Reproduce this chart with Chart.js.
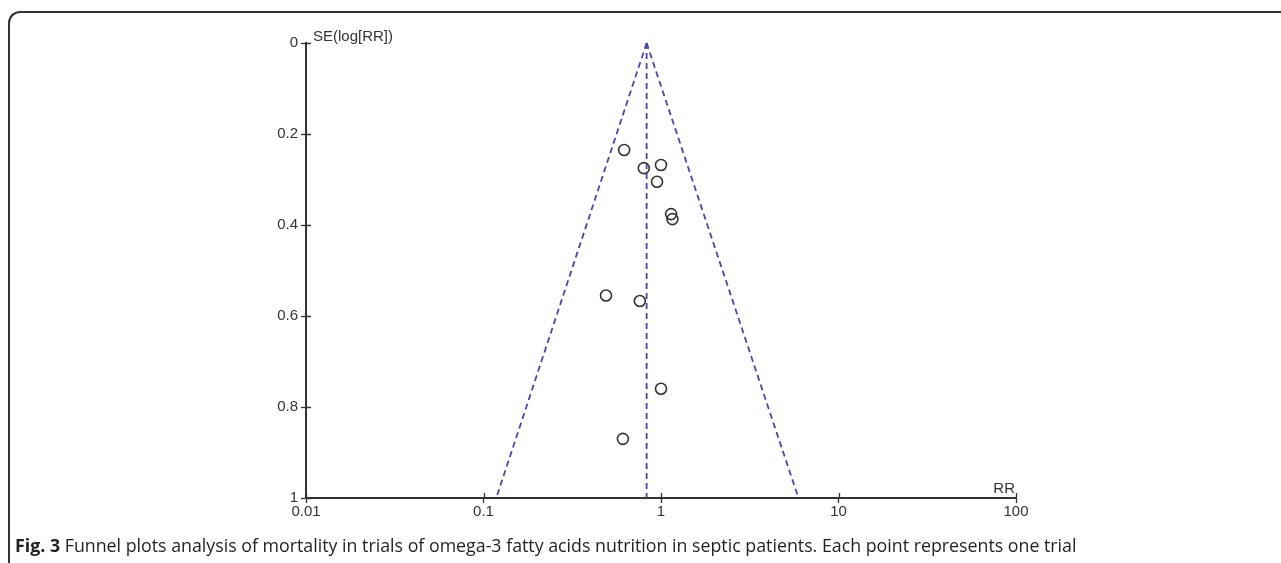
<!DOCTYPE html>
<html>
<head>
<meta charset="utf-8">
<script src="https://cdn.jsdelivr.net/npm/chart.js@4/dist/chart.umd.min.js"></script>
<style>
  html, body { margin: 0; padding: 0; background: #fff; }
  body { width: 1281px; height: 563px; position: relative; overflow: hidden; }
  #frame {
    position: absolute; left: 8px; top: 11px; width: 1400px; height: 700px;
    border-top: 2px solid #333; border-left: 2px solid #333;
    border-top-left-radius: 12px; box-sizing: border-box;
  }
  #chart { position: absolute; left: 0; top: 0; }
  #caption {
    position: absolute; left: 15px; top: 533px; white-space: nowrap;
    font-family: "Open Sans", sans-serif; font-size: 15px; color: #231f20;
  }
  #caption b { font-weight: 700; }
</style>
</head>
<body>
<div id="frame"></div>
<canvas id="chart" width="1281" height="563"></canvas>
<div id="caption"><b>Fig. 3</b> Funnel plots analysis of mortality in trials of omega-3 fatty acids nutrition in septic patients. Each point represents one trial</div>
<script>
'use strict';

// Trials: risk ratio and standard error of log(RR)
const trialRR = [0.62, 0.80, 1.00, 0.95, 1.14, 1.16, 0.49, 0.76, 1.00, 0.61];
const trialSE = [0.235, 0.275, 0.268, 0.305, 0.376, 0.387, 0.555, 0.567, 0.760, 0.870];

// Pooled estimate and 95% funnel limits
const pooledRR = 0.83;
const funnelLowRR = 0.118;
const funnelHighRR = 5.95;
const funnelSE = [0, 1];

const xTicks = [0.01, 0.1, 1, 10, 100];
const yTicks = [0, 0.2, 0.4, 0.6, 0.8, 1];

const axisColor = '#333333';
const dashColor = '#4a44b0';
const tickFont = { family: 'Liberation Sans, Arial, sans-serif', size: 15 };

document.addEventListener('DOMContentLoaded', function() {
    // fit caption width to the reference
    const caption = document.getElementById('caption');
    const targetWidth = 1062;
    caption.style.fontSize = (15 * targetWidth / caption.offsetWidth) + 'px';

    if (typeof Chart === 'undefined') {
        console.error('Chart.js is not loaded!');
        return;
    }

    const points = trialRR.map(function(rr, i) {
        return { x: rr, y: trialSE[i] };
    });

    function lineData(xs) {
        return xs.map(function(x, i) { return { x: x, y: funnelSE[i] }; });
    }

    function dashed(data) {
        return {
            type: 'scatter',
            data: data,
            showLine: true,
            borderColor: dashColor,
            borderWidth: 1.8,
            borderDash: [6, 4],
            pointRadius: 0,
            fill: false,
            clip: false
        };
    }

    // ticks that cross the axis line + axis captions
    const axisExtras = {
        id: 'axisExtras',
        afterDraw: function(chart) {
            const ctx = chart.ctx;
            const area = chart.chartArea;
            const xs = chart.scales.x;
            const ys = chart.scales.y;
            ctx.save();
            ctx.strokeStyle = axisColor;
            ctx.lineWidth = 1.3;
            ctx.beginPath();
            xs.ticks.forEach(function(t) {
                const px = Math.round(xs.getPixelForValue(t.value)) + 0.5;
                ctx.moveTo(px, area.bottom);
                ctx.lineTo(px, area.bottom - 5);
            });
            ys.ticks.forEach(function(t) {
                const py = Math.round(ys.getPixelForValue(t.value)) + 0.5;
                ctx.moveTo(area.left, py);
                ctx.lineTo(area.left + 5, py);
            });
            ctx.stroke();

            ctx.fillStyle = axisColor;
            ctx.font = '15px ' + tickFont.family;
            ctx.textBaseline = 'alphabetic';
            ctx.textAlign = 'left';
            ctx.fillText('SE(log[RR])', area.left + 7, area.top - 2);
            ctx.textAlign = 'right';
            ctx.fillText('RR', area.right - 1, area.bottom - 5);
            ctx.restore();
        }
    };

    const ctx = document.getElementById('chart').getContext('2d');
    new Chart(ctx, {
        type: 'scatter',
        data: {
            datasets: [
                {
                    label: 'Trials',
                    data: points,
                    pointStyle: 'circle',
                    pointRadius: 5.5,
                    pointBorderWidth: 1.6,
                    pointBorderColor: '#333333',
                    pointBackgroundColor: 'rgba(0,0,0,0)',
                    clip: false
                },
                dashed(lineData([pooledRR, pooledRR])),
                dashed(lineData([pooledRR, funnelLowRR])),
                dashed(lineData([pooledRR, funnelHighRR]))
            ]
        },
        options: {
            responsive: false,
            animation: false,
            devicePixelRatio: 1,
            layout: {
                padding: { left: 0, top: 43, right: 265, bottom: 35 }
            },
            plugins: {
                legend: { display: false },
                tooltip: { enabled: false }
            },
            scales: {
                x: {
                    type: 'logarithmic',
                    min: 0.01,
                    max: 100,
                    afterBuildTicks: function(scale) {
                        scale.ticks = xTicks.map(function(v) { return { value: v }; });
                    },
                    afterFit: function(scale) { scale.height = 30; },
                    grid: {
                        display: true,
                        drawOnChartArea: false,
                        drawTicks: true,
                        tickLength: 5,
                        tickWidth: 1.3,
                        tickColor: axisColor
                    },
                    border: { display: true, color: axisColor, width: 2 },
                    ticks: {
                        autoSkip: false,
                        maxRotation: 0,
                        padding: 0,
                        color: axisColor,
                        font: tickFont,
                        callback: function(value) { return String(value); }
                    }
                },
                y: {
                    type: 'linear',
                    reverse: true,
                    min: 0,
                    max: 1,
                    afterBuildTicks: function(scale) {
                        scale.ticks = yTicks.map(function(v) { return { value: v }; });
                    },
                    afterFit: function(scale) { scale.width = 306; },
                    grid: {
                        display: true,
                        drawOnChartArea: false,
                        drawTicks: true,
                        tickLength: 5,
                        tickWidth: 1.3,
                        tickColor: axisColor
                    },
                    border: { display: true, color: axisColor, width: 2 },
                    ticks: {
                        autoSkip: false,
                        padding: 3,
                        color: axisColor,
                        font: tickFont,
                        callback: function(value) { return String(value); }
                    }
                }
            }
        },
        plugins: [axisExtras]
    });
});
</script>
</body>
</html>
